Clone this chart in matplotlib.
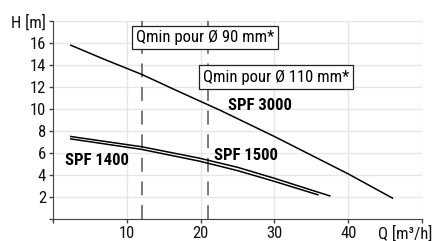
import matplotlib
matplotlib.use("Agg")
import matplotlib.pyplot as plt
from matplotlib import font_manager as fm

# pump curves
q_3000 = [2.4, 7, 12, 17, 22.6, 30, 35, 40, 46]
h_3000 = [15.8, 14.5, 13.15, 11.6, 9.9, 7.5, 5.8, 4.1, 1.9]

q_1500 = [2.4, 12, 19.9, 25, 30, 37.5]
h_1500 = [7.5, 6.57, 5.52, 4.7, 3.7, 2.1]

q_1400 = [2.4, 12, 19.9, 25, 30, 35.9]
h_1400 = [7.28, 6.33, 5.25, 4.4, 3.42, 2.2]

qmin_q = [12, 21]
qmin_labels = ["Qmin pour Ø 90 mm*", "Qmin pour Ø 110 mm*"]

x_ticks = [0, 10, 20, 30, 40, 50]
x_labels = ["", "10", "20", "30", "40", ""]
y_ticks = [0, 2, 4, 6, 8, 10, 12, 14, 16, 18]
y_labels = ["", "2", "4", "6", "8", "10", "12", "14", "16", "H [m]"]

# narrow font if one is there, else Roboto
installed = {f.name for f in fm.fontManager.ttflist}
font = "Roboto"
fsize = 11
for cand in ["Roboto Condensed", "Liberation Sans Narrow", "Open Sans Condensed",
             "Noto Sans Condensed", "DejaVu Sans Condensed", "Arial Narrow"]:
    if cand in installed:
        font = cand
        fsize = 12
        break
plt.rcParams["font.family"] = [font, "DejaVu Sans"]
plt.rcParams["lines.scale_dashes"] = False

fig = plt.figure(figsize=(4.37, 2.41), dpi=100)
ax = fig.add_axes([0.1213, 0.0913, 0.8444, 0.8216])

ax.set_xlim(0, 50)
ax.set_ylim(0, 18)
ax.set_xticks(x_ticks)
ax.set_xticklabels(x_labels)
ax.set_yticks(y_ticks)
ax.set_yticklabels(y_labels)
ax.tick_params(labelsize=fsize, colors="#444444", labelcolor="#111111", length=3, width=1, pad=2)
ax.grid(True, color="#e6e6e6", linewidth=1)
ax.set_axisbelow(True)
for s in ["top", "right"]:
    ax.spines[s].set_visible(False)
for s in ["left", "bottom"]:
    ax.spines[s].set_color("#444444")

for q in qmin_q:
    ax.axvline(q, color="#555555", linewidth=1.1, dashes=(10, 7), zorder=2)

ax.plot(q_3000, h_3000, color="black", linewidth=1.1, zorder=3)
ax.plot(q_1500, h_1500, color="black", linewidth=1.1, zorder=3)
ax.plot(q_1400, h_1400, color="black", linewidth=1.1, zorder=3)

box = dict(boxstyle="square,pad=0.25", facecolor="white", edgecolor="#222222", linewidth=0.9)
ax.text(11.25, 16.5, qmin_labels[0], fontsize=fsize, ha="left", va="center", bbox=box, zorder=4)
ax.text(20.3, 12.9, qmin_labels[1], fontsize=fsize, ha="left", va="center", bbox=box, zorder=4)

ax.text(23.75, 10.36, "SPF 3000", fontsize=fsize, fontweight="bold", ha="left", va="center")
ax.text(21.8, 5.8, "SPF 1500", fontsize=fsize, fontweight="bold", ha="left", va="center")
ax.text(1.6, 5.36, "SPF 1400", fontsize=fsize, fontweight="bold", ha="left", va="center")

ax.annotate("Q [m³/h]", xy=(50, 0), xytext=(-12, -5), textcoords="offset points",
            ha="center", va="top", fontsize=fsize, color="#111111")

fig.savefig("out.png", dpi=100)
